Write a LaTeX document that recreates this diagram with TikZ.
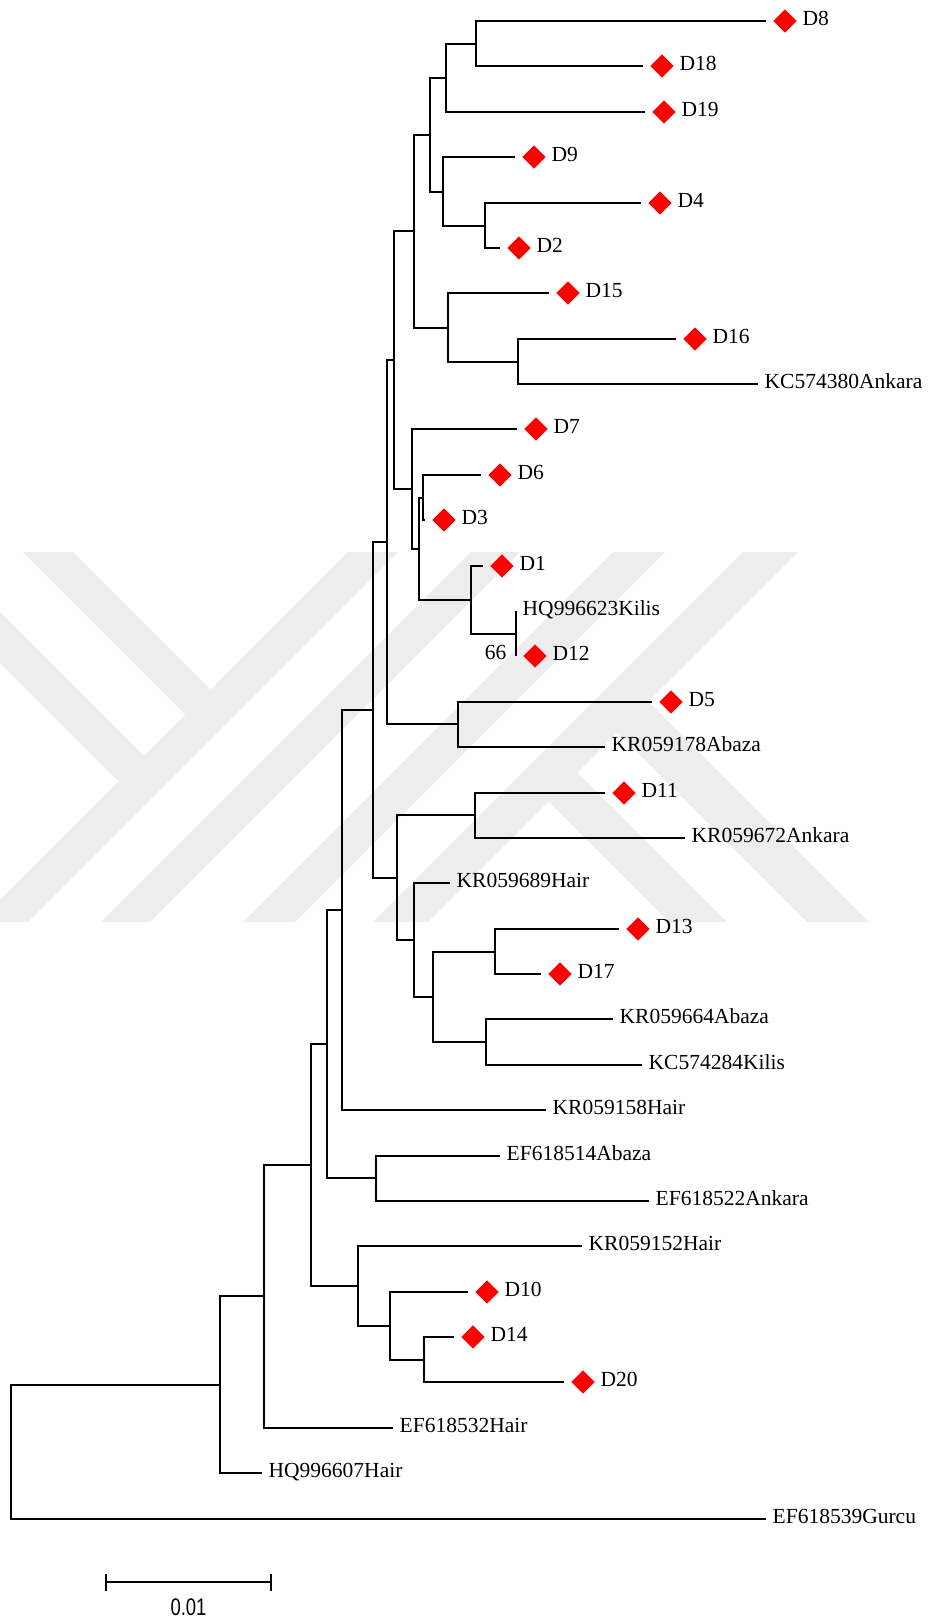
\documentclass[tikz,border=0pt]{standalone}
\usepackage{fontspec}
\setmainfont{Liberation Serif}
\setsansfont{Liberation Sans}
\usepackage{graphicx}
\usetikzlibrary{positioning, shapes.geometric}
\definecolor{wmgrey}{RGB}{237,237,237}

\begin{document}
\begin{tikzpicture}[x=1pt, y=-1pt,
    branch/.style={line width=2pt},
    taxon/.style={anchor=base west, inner sep=0pt, yshift=-4.5pt, font=\fontsize{21.5}{24}\selectfont},
    isolate/.style={diamond, fill=red, inner sep=0pt, minimum size=23.5pt},
    band/.style={fill=wmgrey, draw=none}]

    \useasboundingbox (0,0) rectangle (933,1620);

    % --- Watermark (background stripes) ---
    \begin{scope}
        \clip (0,552) rectangle (933,922);
        % rising stripes
        \fill[band] (348,552) -- (398,552) -- (28,922) -- (-22,922) -- cycle;
        \fill[band] (471,552) -- (520,552) -- (150,922) -- (101,922) -- cycle;
        \fill[band] (613,552) -- (665,552) -- (295,922) -- (243,922) -- cycle;
        \fill[band] (743,552) -- (798,552) -- (428,922) -- (373,922) -- cycle;
        % falling stripes
        \fill[band] (23,552) -- (73,552) -- (215.5,694.5) -- (190.5,719.5) -- cycle;
        \fill[band] (-20,592) -- (149,761) -- (123.5,786.5) -- (-20,643) -- cycle;
        \fill[band] (572.5,767.5) -- (727,922) -- (669,922) -- (543.5,796.5) -- cycle;
        \fill[band] (643.5,696.5) -- (869,922) -- (807,922) -- (612.5,727.5) -- cycle;
    \end{scope}

    % --- Branch tips ---
    \coordinate (D8) at (766,21);
    \coordinate (D18) at (643,66);
    \coordinate (D19) at (645,112);
    \coordinate (D9) at (515,157);
    \coordinate (D4) at (641,203);
    \coordinate (D2) at (500,248);
    \coordinate (D15) at (549,293);
    \coordinate (D16) at (676,339);
    \coordinate (KC574380) at (758,384);
    \coordinate (D7) at (517,429);
    \coordinate (D6) at (481,475);
    \coordinate (D3) at (425,520);
    \coordinate (D1) at (483,566);
    \coordinate (HQ996623) at (516,611);
    \coordinate (D12) at (516,656);
    \coordinate (D5) at (652,702);
    \coordinate (KR059178) at (605,747);
    \coordinate (D11) at (605,793);
    \coordinate (KR059672) at (685,838);
    \coordinate (KR059689) at (450,883);
    \coordinate (D13) at (619,929);
    \coordinate (D17) at (541,974);
    \coordinate (KR059664) at (613,1019);
    \coordinate (KC574284) at (642,1065);
    \coordinate (KR059158) at (546,1110);
    \coordinate (EF618514) at (500,1156);
    \coordinate (EF618522) at (649,1201);
    \coordinate (KR059152) at (582,1246);
    \coordinate (D10) at (468,1292);
    \coordinate (D14) at (454,1337);
    \coordinate (D20) at (564,1382);
    \coordinate (EF618532) at (393,1428);
    \coordinate (HQ996607) at (262,1473);
    \coordinate (EF618539) at (766,1519);

    % --- Internal nodes ---
    \coordinate (n1) at (11,1452);
    \coordinate (n2) at (220,1385);
    \coordinate (n3) at (264,1296);
    \coordinate (n4) at (311,1165);
    \coordinate (n5) at (327,1044);
    \coordinate (n6) at (358,1286);
    \coordinate (n7) at (342,910);
    \coordinate (n8) at (376,1178);
    \coordinate (n9) at (373,710);
    \coordinate (n10) at (387,542);
    \coordinate (n11) at (397,878);
    \coordinate (n12) at (394,360);
    \coordinate (n13) at (458,724);
    \coordinate (n14) at (414,231);
    \coordinate (n15) at (412,489);
    \coordinate (n16) at (430,135);
    \coordinate (n17) at (448,328);
    \coordinate (n18) at (446,78);
    \coordinate (n19) at (443,192);
    \coordinate (n20) at (476,44);
    \coordinate (n21) at (485,226);
    \coordinate (n22) at (518,362);
    \coordinate (n23) at (419,549);
    \coordinate (n24) at (423,498);
    \coordinate (n25) at (471,600);
    \coordinate (n26) at (516,634);
    \coordinate (n27) at (475,815);
    \coordinate (n28) at (414,940);
    \coordinate (n29) at (433,997);
    \coordinate (n30) at (495,952);
    \coordinate (n31) at (486,1042);
    \coordinate (n32) at (390,1326);
    \coordinate (n33) at (424,1360);

    % --- Branches ---
    \draw[branch] (n2) -| (n1) |- (EF618539);
    \draw[branch] (n3) -| (n2) |- (HQ996607);
    \draw[branch] (n4) -| (n3) |- (EF618532);
    \draw[branch] (n5) -| (n4) |- (n6);
    \draw[branch] (n7) -| (n5) |- (n8);
    \draw[branch] (n9) -| (n7) |- (KR059158);
    \draw[branch] (EF618514) -| (n8) |- (EF618522);
    \draw[branch] (n10) -| (n9) |- (n11);
    \draw[branch] (n12) -| (n10) |- (n13);
    \draw[branch] (D5) -| (n13) |- (KR059178);
    \draw[branch] (n14) -| (n12) |- (n15);
    \draw[branch] (n16) -| (n14) |- (n17);
    \draw[branch] (n18) -| (n16) |- (n19);
    \draw[branch] (n20) -| (n18) |- (D19);
    \draw[branch] (D8) -| (n20) |- (D18);
    \draw[branch] (D9) -| (n19) |- (n21);
    \draw[branch] (D4) -| (n21) |- (D2);
    \draw[branch] (D15) -| (n17) |- (n22);
    \draw[branch] (D16) -| (n22) |- (KC574380);
    \draw[branch] (D7) -| (n15) |- (n23);
    \draw[branch] (n24) -| (n23) |- (n25);
    \draw[branch] (D6) -| (n24) |- (D3);
    \draw[branch] (D1) -| (n25) |- (n26);
    \draw[branch] (HQ996623) -| (n26) |- (D12);
    \draw[branch] (n27) -| (n11) |- (n28);
    \draw[branch] (D11) -| (n27) |- (KR059672);
    \draw[branch] (KR059689) -| (n28) |- (n29);
    \draw[branch] (n30) -| (n29) |- (n31);
    \draw[branch] (D13) -| (n30) |- (D17);
    \draw[branch] (KR059664) -| (n31) |- (KC574284);
    \draw[branch] (KR059152) -| (n6) |- (n32);
    \draw[branch] (D10) -| (n32) |- (n33);
    \draw[branch] (D14) -| (n33) |- (D20);

    % --- Isolates (red markers) ---
    \node[isolate, right=7pt of D8] (D8m) {};
    \node[isolate, right=7pt of D18] (D18m) {};
    \node[isolate, right=7pt of D19] (D19m) {};
    \node[isolate, right=7pt of D9] (D9m) {};
    \node[isolate, right=7pt of D4] (D4m) {};
    \node[isolate, right=7pt of D2] (D2m) {};
    \node[isolate, right=7pt of D15] (D15m) {};
    \node[isolate, right=7pt of D16] (D16m) {};
    \node[isolate, right=7pt of D7] (D7m) {};
    \node[isolate, right=7pt of D6] (D6m) {};
    \node[isolate, right=7pt of D3] (D3m) {};
    \node[isolate, right=7pt of D1] (D1m) {};
    \node[isolate, right=7pt of D12] (D12m) {};
    \node[isolate, right=7pt of D5] (D5m) {};
    \node[isolate, right=7pt of D11] (D11m) {};
    \node[isolate, right=7pt of D13] (D13m) {};
    \node[isolate, right=7pt of D17] (D17m) {};
    \node[isolate, right=7pt of D10] (D10m) {};
    \node[isolate, right=7pt of D14] (D14m) {};
    \node[isolate, right=7pt of D20] (D20m) {};

    % --- Labels ---
    \node[right=5.5pt of D8m, taxon] (D8t) {D8};
    \node[right=5.5pt of D18m, taxon] (D18t) {D18};
    \node[right=5.5pt of D19m, taxon] (D19t) {D19};
    \node[right=5.5pt of D9m, taxon] (D9t) {D9};
    \node[right=5.5pt of D4m, taxon] (D4t) {D4};
    \node[right=5.5pt of D2m, taxon] (D2t) {D2};
    \node[right=5.5pt of D15m, taxon] (D15t) {D15};
    \node[right=5.5pt of D16m, taxon] (D16t) {D16};
    \node[right=6.5pt of KC574380, taxon] (KC574380t) {KC574380Ankara};
    \node[right=5.5pt of D7m, taxon] (D7t) {D7};
    \node[right=5.5pt of D6m, taxon] (D6t) {D6};
    \node[right=5.5pt of D3m, taxon] (D3t) {D3};
    \node[right=5.5pt of D1m, taxon] (D1t) {D1};
    \node[right=6.5pt of HQ996623, taxon] (HQ996623t) {HQ996623Kilis};
    \node[right=5.5pt of D12m, taxon] (D12t) {D12};
    \node[right=5.5pt of D5m, taxon] (D5t) {D5};
    \node[right=6.5pt of KR059178, taxon] (KR059178t) {KR059178Abaza};
    \node[right=5.5pt of D11m, taxon] (D11t) {D11};
    \node[right=6.5pt of KR059672, taxon] (KR059672t) {KR059672Ankara};
    \node[right=6.5pt of KR059689, taxon] (KR059689t) {KR059689Hair};
    \node[right=5.5pt of D13m, taxon] (D13t) {D13};
    \node[right=5.5pt of D17m, taxon] (D17t) {D17};
    \node[right=6.5pt of KR059664, taxon] (KR059664t) {KR059664Abaza};
    \node[right=6.5pt of KC574284, taxon] (KC574284t) {KC574284Kilis};
    \node[right=6.5pt of KR059158, taxon] (KR059158t) {KR059158Hair};
    \node[right=6.5pt of EF618514, taxon] (EF618514t) {EF618514Abaza};
    \node[right=6.5pt of EF618522, taxon] (EF618522t) {EF618522Ankara};
    \node[right=6.5pt of KR059152, taxon] (KR059152t) {KR059152Hair};
    \node[right=5.5pt of D10m, taxon] (D10t) {D10};
    \node[right=5.5pt of D14m, taxon] (D14t) {D14};
    \node[right=5.5pt of D20m, taxon] (D20t) {D20};
    \node[right=6.5pt of EF618532, taxon] (EF618532t) {EF618532Hair};
    \node[right=6.5pt of HQ996607, taxon] (HQ996607t) {HQ996607Hair};
    \node[right=6.5pt of EF618539, taxon] (EF618539t) {EF618539Gurcu};

    % bootstrap value
    \node[anchor=base east, inner sep=0pt, font=\fontsize{21.5}{24}\selectfont] (boot) at ([xshift=-9.5pt, yshift=-25pt]n26) {66};

    % --- Scale bar ---
    \coordinate (barL) at (106,1582);
    \coordinate (barR) at (271,1582);
    \draw[branch] (barL) -- (barR);
    \draw[branch] ([yshift=8.5pt]barL) -- ([yshift=-8.5pt]barL);
    \draw[branch] ([yshift=8.5pt]barR) -- ([yshift=-8.5pt]barR);
    \node[anchor=base, inner sep=0pt, font=\sffamily\fontsize{24}{24}\selectfont] (barlabel) at (188.5,1615) {\scalebox{0.77}[1]{0.01}};

\end{tikzpicture}
\end{document}
